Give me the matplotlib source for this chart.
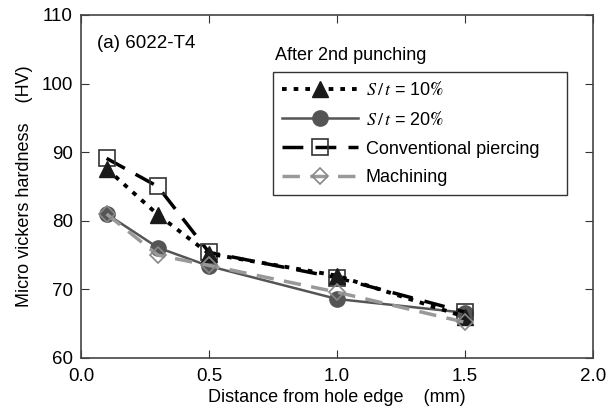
import matplotlib
matplotlib.use("Agg")
import matplotlib.pyplot as plt

plt.rcParams['font.family'] = ['Liberation Sans', 'DejaVu Sans']
plt.rcParams['mathtext.fontset'] = 'stix'

x = [0.1, 0.3, 0.5, 1.0, 1.5]
st10 = [87.6, 80.9, 75.2, 72.0, 66.0]
st20 = [81.0, 76.1, 73.4, 68.6, 66.6]
conv = [89.1, 85.0, 75.4, 71.7, 66.7]
mach = [81.0, 75.0, 73.5, 69.6, 65.2]

labels = [r'$S\,/\,t$ = 10$\mathbf{\%}$', r'$S\,/\,t$ = 20$\mathbf{\%}$',
          'Conventional piercing', 'Machining']

W, H = 606, 416
L, R, B, T = 81, 593, 358, 15
fig = plt.figure(figsize=(W/100, H/100), dpi=100)
ax = fig.add_axes([L/W, (H-B)/H, (R-L)/W, (B-T)/H])

def ax_xy(px, py):
    return (px-L)/(R-L), (B-py)/(B-T)

ax.plot(x, conv, color='black', lw=2.5, dashes=(6, 3.5), marker='s', ms=11,
        mfc='none', mec='#333333', mew=1.2, label=labels[2], zorder=3)
ax.plot(x, st10, color='black', lw=2.8, linestyle=(0, (1.2, 1.8)), marker='^', ms=12,
        mfc='#1a1a1a', mec='#1a1a1a', label=labels[0], zorder=4)
ax.plot(x, st20, color='#555555', lw=1.8, marker='o', ms=11,
        mfc='#555555', mec='#555555', label=labels[1], zorder=2)
ax.plot(x, mach, color='#999999', lw=2.5, dashes=(5, 3), marker='D', ms=8,
        mfc='none', mec='#888888', mew=1.2, label=labels[3], zorder=5)

ax.set_xlim(0, 2.0)
ax.set_ylim(60, 110)
ax.set_xticks([0.0, 0.5, 1.0, 1.5, 2.0])
ax.set_xticklabels(['0.0', '0.5', '1.0', '1.5', '2.0'])
ax.set_yticks([60, 70, 80, 90, 100, 110])
ax.tick_params(direction='in', length=6, labelsize=13.5, color='#333333',
               top=True, right=True)
ax.tick_params(axis='x', pad=7)
ax.tick_params(axis='y', pad=6)
for s in ax.spines.values():
    s.set_color('#444444')
    s.set_linewidth(1.2)

ax.set_xlabel('Distance from hole edge    (mm)', fontsize=13, labelpad=3)
ax.set_ylabel('Micro vickers hardness    (HV)', fontsize=13, labelpad=6)

ax.text(*ax_xy(97, 44), '(a) 6022-T4', transform=ax.transAxes, fontsize=13.5,
        va='center', ha='left')
ax.text(*ax_xy(275, 55), 'After 2nd punching', transform=ax.transAxes, fontsize=13,
        va='center', ha='left')

x0, y0 = ax_xy(273, 198)
x1, y1 = ax_xy(567, 72)
h, l = ax.get_legend_handles_labels()
order = [1, 2, 0, 3]
leg = ax.legend([h[i] for i in order], [l[i] for i in order],
                loc='upper left', bbox_to_anchor=(x0, y0, x1-x0, y1-y0),
                mode='expand',
                fontsize=13, handlelength=4.2, frameon=True, fancybox=False,
                edgecolor='black', borderaxespad=0, labelspacing=0.65,
                handletextpad=0.45, borderpad=0.5)
leg.get_frame().set_linewidth(1.0)

fig.savefig('out.png', dpi=100)
